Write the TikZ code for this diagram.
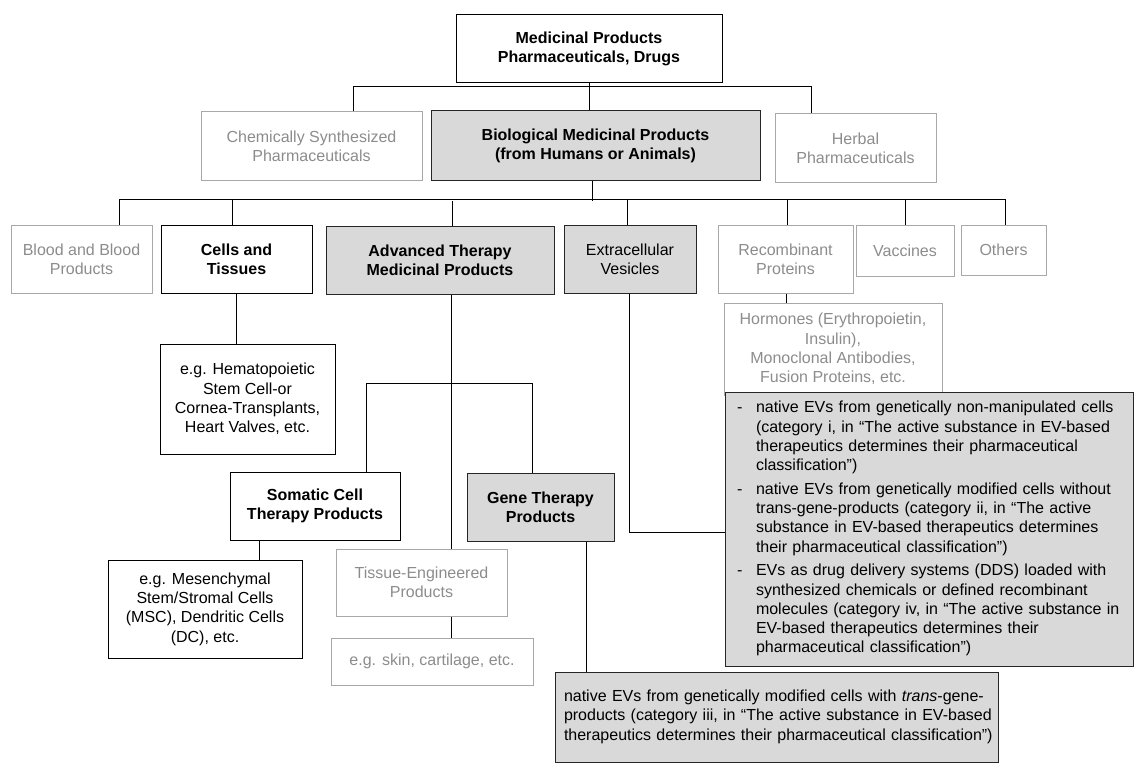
\documentclass[tikz,border=0pt]{standalone}
\usepackage{fontspec}
\setmainfont{Liberation Sans}
\definecolor{boxgray}{HTML}{D9D9D9}
\definecolor{textgray}{HTML}{8C8C8C}
\definecolor{linegray}{HTML}{A8A8A8}
\newcommand\boxfont{\fontsize{16}{19.25}\selectfont}
\tikzset{ plain/.style = { rectangle % black frame
        , draw = black
        , line width = 1pt
        , align = center
        , inner sep = 2pt
        , font = \boxfont
        }
        , faded/.style = { plain % grey frame and text
        , draw = linegray
        , text = textgray
        }
        , shaded/.style = { plain % grey fill
        , draw = black!85
        , fill = boxgray
        }
        }

\begin{document}
\begin{tikzpicture}[x=1pt, y=-1pt,
        bold_style/.style={font=\boxfont\bfseries},
        list_style/.style={shaded,align=left,inner xsep=12pt,inner ysep=0pt},
        edge_style/.style={draw=black, line width=1pt}]
        \useasboundingbox (0,0) rectangle (1135,765);

        % first levels
        \node [plain,bold_style,minimum width=266pt,minimum height=68pt] (medicinal) at (589,49) {Medicinal Products\\Pharmaceuticals, Drugs};
        \node [faded,minimum width=221pt,minimum height=68pt] (chem) at (311.5,146) {Chemically Synthesized\\Pharmaceuticals};
        \node [shaded,bold_style,minimum width=329pt,minimum height=69pt] (bio) at (595.5,145.5) {Biological Medicinal Products\\(from Humans or Animals)};
        \node [faded,minimum width=161pt,minimum height=68pt] (herbal) at (855.5,148) {Herbal\\Pharmaceuticals};

        \node [faded,minimum width=141pt,minimum height=68pt] (blood) at (81.5,259) {Blood and Blood\\Products};
        \node [plain,bold_style,minimum width=151pt,minimum height=68pt] (cells) at (236.5,259) {Cells and\\Tissues};
        \node [shaded,bold_style,minimum width=228pt,minimum height=68pt] (atmp) at (440,260) {Advanced Therapy\\Medicinal Products};
        \node [shaded,minimum width=132pt,minimum height=68pt] (ev) at (630,259) {Extracellular\\Vesicles};
        \node [faded,minimum width=135pt,minimum height=68pt] (recomb) at (785.5,259) {Recombinant\\Proteins};
        \node [faded,minimum width=98pt,minimum height=51pt] (vacc) at (905,250.5) {Vaccines};
        \node [faded,minimum width=85pt,minimum height=50pt] (others) at (1003.5,250) {Others};

        % lower levels
        \node [plain,minimum width=175pt,minimum height=110pt] (hemato) at (247.5,399) {e.g. Hematopoietic\\Stem Cell-or\\Cornea-Transplants,\\Heart Valves, etc.};
        \node [faded,minimum width=218pt,minimum height=92pt] (hormones) at (833,349) {Hormones (Erythropoietin,\\Insulin),\\Monoclonal Antibodies,\\Fusion Proteins, etc.};
        \node [plain,bold_style,minimum width=170pt,minimum height=68pt] (somatic) at (315,506) {Somatic Cell\\Therapy Products};
        \node [shaded,bold_style,minimum width=147pt,minimum height=68pt] (gene) at (540.5,507) {Gene Therapy\\Products};
        \node [faded,minimum width=171pt,minimum height=67pt] (tissue) at (421.5,582.5) {Tissue-Engineered\\Products};
        \node [faded,minimum width=202pt,minimum height=47pt] (skin) at (432,661.5) {e.g. skin, cartilage, etc.};
        \node [plain,minimum width=194pt,minimum height=98pt] (msc) at (205,609) {e.g. Mesenchymal\\Stem/Stromal Cells\\(MSC), Dendritic Cells\\(DC), etc.};

        \node [list_style,text width=384pt,minimum height=274pt] (evlist) at (929,529) {%
            \begin{tabular}{@{}p{19pt}@{}l@{}}
            - & native EVs from genetically non-manipulated cells\\
              & (category i, in “The active substance in EV-based\\
              & therapeutics determines their pharmaceutical\\
              & classification”)\\[4.5pt]
            - & native EVs from genetically modified cells without\\
              & trans-gene-products (category ii, in “The active\\
              & substance in EV-based therapeutics determines\\
              & their pharmaceutical classification”)\\[4.5pt]
            - & EVs as drug delivery systems (DDS) loaded with\\
              & synthesized chemicals or defined recombinant\\
              & molecules (category iv, in “The active substance in\\
              & EV-based therapeutics determines their\\
              & pharmaceutical classification”)
            \end{tabular}};
        \node [list_style,inner xsep=9pt,text width=425pt,minimum height=90pt] (native) at (776.5,717) {%
            \begin{tabular}{@{}l@{}}
            native EVs from genetically modified cells with \textit{trans}-gene-\\
            products (category iii, in “The active substance in EV-based\\
            therapeutics determines their pharmaceutical classification”)
            \end{tabular}};

        % connectors
        \draw [edge_style] (medicinal.south) -- (medicinal.south |- bio.north);
        \draw [edge_style] ([xshift=41.5pt]chem.north) -- ++(0,-25) -| ([xshift=-44.5pt]herbal.north);
        \draw [edge_style] ([xshift=-3.5pt]bio.south) -- ++(0,20);
        \draw [edge_style] ([xshift=37.5pt]blood.north) -- ++(0,-25) -| ([xshift=1.5pt]others.north);
        \foreach \n/\s in {cells/-4.5, atmp/12, ev/-3, recomb/1.5, vacc/0}
            \draw [edge_style] ([xshift=\s pt]\n.north) -- ++(0,-25);
        \draw [edge_style] (cells.south) -- (cells.south |- hemato.north);
        \draw [edge_style] ([xshift=1pt]recomb.south) -- ([xshift=1pt]recomb.south |- hormones.north);
        \draw [edge_style] ([xshift=11pt]atmp.south) -- ([xshift=11pt]atmp.south |- tissue.north);
        \draw [edge_style] ([xshift=51pt]somatic.north) -- ++(0,-88) -| ([xshift=-8.5pt]gene.north);
        \draw [edge_style] ([xshift=-56pt]somatic.south) -- ([xshift=-56pt]somatic.south |- msc.north);
        \draw [edge_style] ([xshift=29.5pt]tissue.south) -- ([xshift=29.5pt]tissue.south |- skin.north);
        \draw [edge_style] ([xshift=-1pt]ev.south) |- ([yshift=-3pt]evlist.west);
        \draw [edge_style] ([xshift=45.5pt]gene.south) -- ([xshift=45.5pt]gene.south |- native.north);
\end{tikzpicture}
\end{document}
